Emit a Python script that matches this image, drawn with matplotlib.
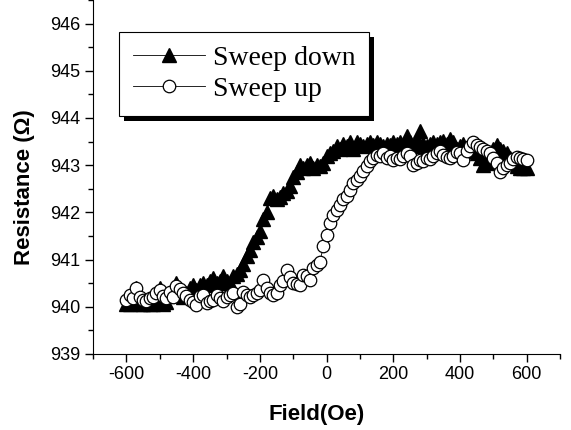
import numpy as np
import matplotlib.pyplot as plt
import matplotlib.patheffects as pe
from matplotlib.ticker import MultipleLocator

# field steps (Oe), -600 .. 600 every 10
field = np.arange(-600, 601, 10)

sweep_down = [
    940.05, 940.05, 940.08, 940.40, 940.05, 940.05, 940.08, 940.05, 940.05, 940.10,
    940.40, 940.05, 940.10, 940.25, 940.40, 940.50, 940.35, 940.20, 940.30, 940.40,
    940.45, 940.35, 940.45, 940.50, 940.45, 940.55, 940.60, 940.50, 940.55, 940.65,
    940.55, 940.50, 940.65, 940.70, 940.78, 940.90, 941.08, 941.20, 941.38, 941.48,
    941.60, 941.85, 942.00, 942.30, 942.35, 942.28, 942.32, 942.40, 942.45, 942.55,
    942.75, 942.85, 943.00, 942.95, 943.00, 943.05, 942.95, 943.00, 942.98, 943.05,
    943.20, 943.25, 943.30, 943.40, 943.35, 943.45, 943.40, 943.48, 943.35, 943.50,
    943.45, 943.40, 943.45, 943.50, 943.42, 943.48, 943.45, 943.40, 943.45, 943.42,
    943.48, 943.45, 943.50, 943.40, 943.62, 943.50, 943.40, 943.55, 943.73, 943.45,
    943.40, 943.45, 943.50, 943.45, 943.50, 943.52, 943.45, 943.55, 943.50, 943.35,
    943.40, 943.45, 943.35, 943.30, 943.35, 943.25, 943.15, 943.00, 943.05, 943.25,
    943.35, 943.42, 943.35, 943.30, 943.25, 943.15, 943.10, 942.98, 942.95, 942.95,
    942.95,
]

sweep_up = [
    940.15, 940.25, 940.18, 940.40, 940.20, 940.15, 940.12, 940.18, 940.20, 940.28,
    940.36, 940.22, 940.18, 940.32, 940.20, 940.43, 940.38, 940.28, 940.22, 940.15,
    940.10, 940.04, 940.22, 940.25, 940.08, 940.12, 940.15, 940.25, 940.18, 940.12,
    940.20, 940.25, 940.30, 940.00, 940.05, 940.32, 940.25, 940.20, 940.25, 940.30,
    940.35, 940.57, 940.40, 940.30, 940.25, 940.30, 940.45, 940.55, 940.78, 940.64,
    940.50, 940.48, 940.46, 940.68, 940.65, 940.57, 940.82, 940.88, 940.95, 941.28,
    941.52, 941.78, 941.95, 942.05, 942.15, 942.28, 942.35, 942.48, 942.62, 942.68,
    942.77, 942.88, 942.99, 943.08, 943.15, 943.22, 943.20, 943.25, 943.15, 943.20,
    943.10, 943.15, 943.12, 943.20, 943.25, 943.20, 943.00, 943.05, 943.10, 943.08,
    943.15, 943.12, 943.20, 943.25, 943.30, 943.22, 943.18, 943.15, 943.20, 943.28,
    943.25, 943.10, 943.30, 943.40, 943.48, 943.42, 943.38, 943.35, 943.30, 943.25,
    943.15, 943.05, 942.85, 942.95, 943.00, 943.05, 943.12, 943.18, 943.15, 943.12,
    943.10,
]

plt.rcParams['font.family'] = ['Liberation Sans', 'DejaVu Sans']
plt.rcParams['axes.unicode_minus'] = False

fig = plt.figure(figsize=(5.71, 4.30), dpi=100)
ax = fig.add_axes([0.163, 0.177, 0.818, 0.823])

# sweep down is taken from +600 to -600
ax.plot(field[::-1], sweep_down[::-1], color='k', lw=0.6, marker='^', ms=10,
        mfc='k', mec='k', label='Sweep down')
ax.plot(field, sweep_up, color='k', lw=0.6, marker='o', ms=9,
        mfc='white', mec='k', mew=0.9, label='Sweep up')

ax.set_xlim(-700, 700)
ax.set_ylim(939, 946.5)
ax.xaxis.set_major_locator(MultipleLocator(200))
ax.xaxis.set_minor_locator(MultipleLocator(100))
ax.yaxis.set_major_locator(MultipleLocator(1))
ax.yaxis.set_minor_locator(MultipleLocator(0.5))
ax.spines['top'].set_visible(False)
ax.spines['right'].set_visible(False)
ax.tick_params(which='major', direction='out', length=6, width=1, labelsize=13, pad=3)
ax.tick_params(which='minor', direction='out', length=3.5, width=1)

ax.set_xlabel('Field(Oe)', fontsize=16, fontweight='bold')
ax.set_ylabel('Resistance (Ω)', fontsize=16, fontweight='bold')
ax.xaxis.label.set_va('center')
ax.xaxis.set_label_coords(0.478, -0.172)
ax.yaxis.label.set_va('center')
ax.yaxis.set_label_coords(-0.146, 0.47)

leg = ax.legend(loc='upper left', bbox_to_anchor=(0.056, 0.91), borderaxespad=0,
                fancybox=False, edgecolor='k', framealpha=1,
                prop={'family': 'Liberation Serif', 'size': 20},
                handlelength=2.6, handletextpad=0.3, labelspacing=0.22,
                borderpad=0.48, markerscale=1.0)
leg.get_frame().set_linewidth(0.8)
leg.get_frame().set_path_effects([
    pe.SimplePatchShadow(offset=(3.6, -3.6), shadow_rgbFace='k', alpha=1),
    pe.Normal()])

fig.savefig('out.png', dpi=100)
